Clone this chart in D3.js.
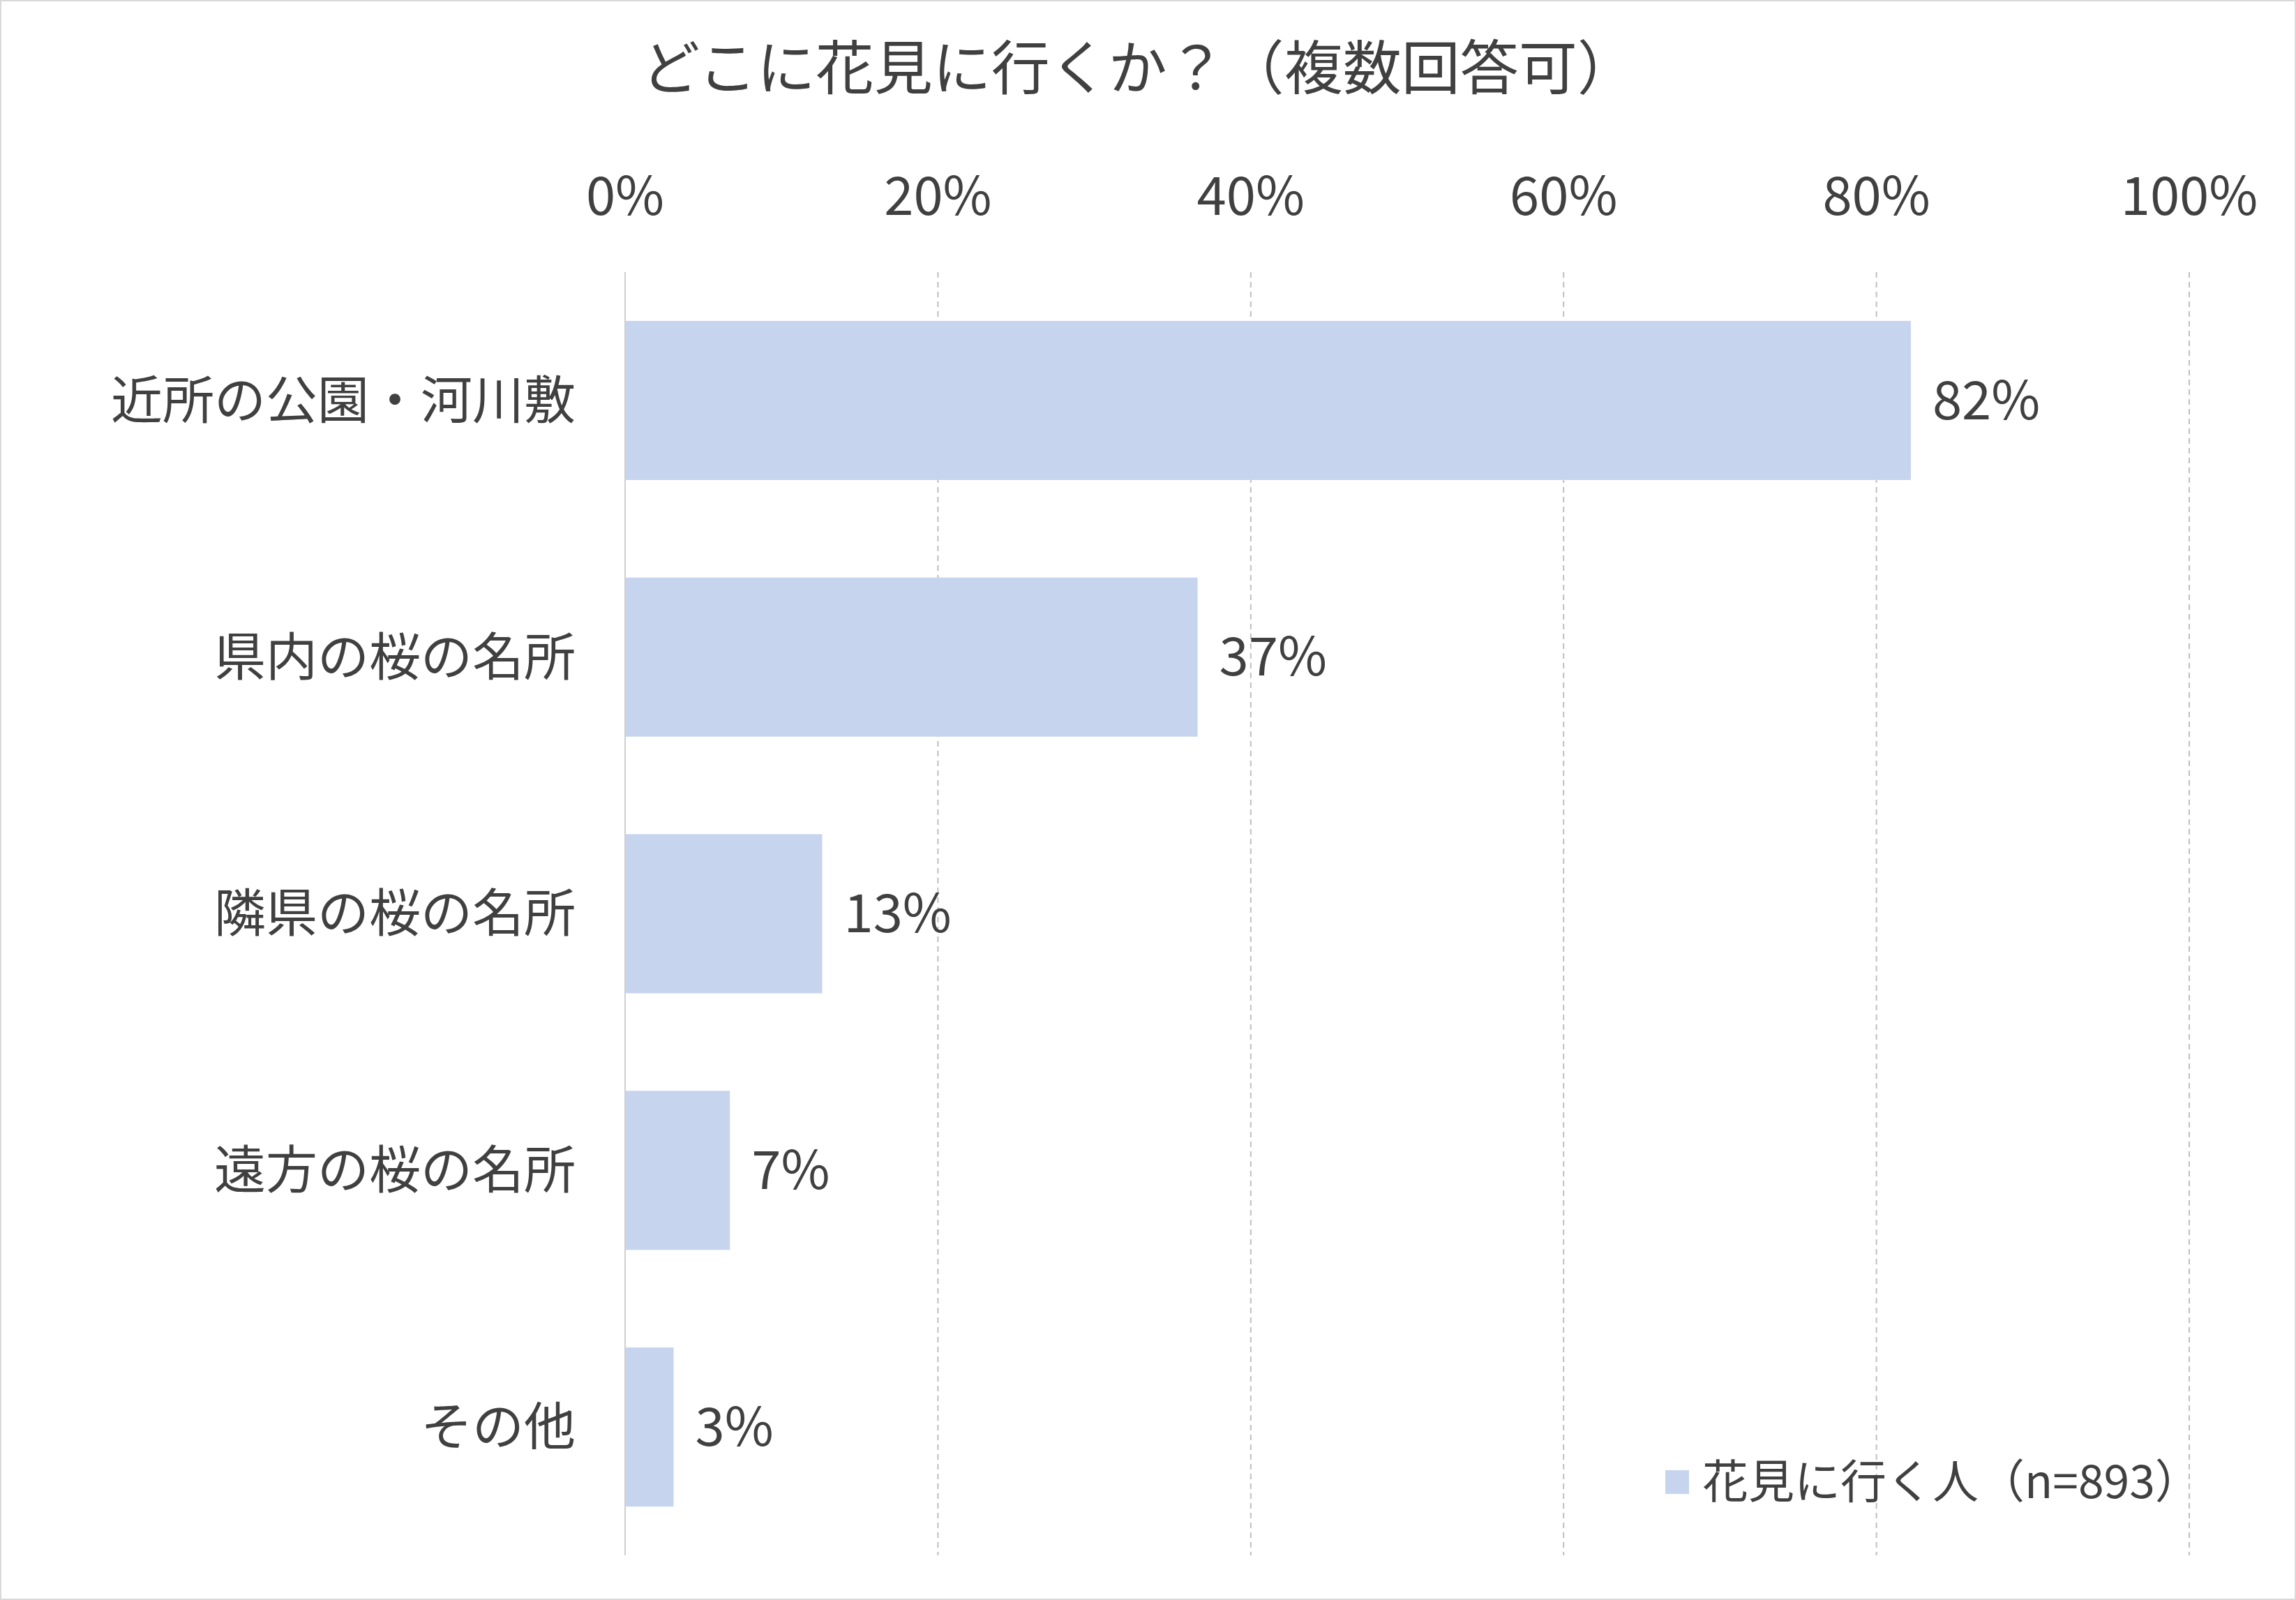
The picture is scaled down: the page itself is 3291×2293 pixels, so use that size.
<!DOCTYPE html>
<html><head><meta charset="utf-8">
<script src="https://cdn.jsdelivr.net/npm/d3@7"></script>
<style>body{margin:0;background:#fff}svg{display:block}</style>
</head><body>
<script>
const categories=["近所の公園・河川敷","県内の桜の名所","隣県の桜の名所","遠方の桜の名所","その他"];
const values=[82.2,36.6,12.6,6.7,3.1];
const valueLabels=["82%","37%","13%","7%","3%"];
const ticks=[0,20,40,60,80,100];
const title="どこに花見に行くか？（複数回答可）";
const legendLabel="花見に行く人（n=893）";

const W=3291,H=2293,font="'Noto Sans CJK JP','Noto Sans',sans-serif",tc="#404040",barC="#c7d4ed";
const svg=d3.select("body").append("svg").attr("width",W).attr("height",H).style("font-family",font);
svg.append("rect").attr("x",1).attr("y",1).attr("width",W-2).attr("height",H-2).attr("fill","#fff").attr("stroke","#d9d9d9").attr("stroke-width",2);
const x=d3.scaleLinear().domain([0,100]).range([896,3138]);
const y=d3.scaleBand().domain(categories).range([390,2229]).paddingInner(0.38).paddingOuter(0.19);
svg.append("text").attr("x",1632).attr("y",128).attr("text-anchor","middle").attr("font-size",84).attr("fill",tc).text(title);
const g=svg.append("g");
ticks.forEach(t=>{
  if(t>0) g.append("line").attr("x1",x(t)).attr("x2",x(t)).attr("y1",390).attr("y2",2229).attr("stroke","#bfbfbf").attr("stroke-width",2).attr("stroke-dasharray","8,6");
  g.append("text").attr("x",x(t)).attr("y",308).attr("text-anchor","middle").attr("font-size",76).attr("fill",tc).text(t+"%");
});
g.selectAll("rect.bar").data(values).join("rect").attr("class","bar")
 .attr("x",x(0)).attr("y",(d,i)=>y(categories[i])).attr("width",d=>x(d)-x(0)).attr("height",y.bandwidth()).attr("fill",barC);
g.append("line").attr("x1",x(0)).attr("x2",x(0)).attr("y1",390).attr("y2",2229).attr("stroke","#d0d0d0").attr("stroke-width",2);
g.selectAll("text.cat").data(categories).join("text").attr("class","cat")
 .attr("x",825).attr("y",d=>y(d)+y.bandwidth()/2).attr("dy","0.35em").attr("text-anchor","end").attr("font-size",74).attr("fill",tc).text(d=>d);
g.selectAll("text.val").data(values).join("text").attr("class","val")
 .attr("x",d=>x(d)+31).attr("y",(d,i)=>y(categories[i])+y.bandwidth()/2).attr("dy","0.35em").attr("font-size",76).attr("fill",tc).text((d,i)=>valueLabels[i]);
svg.append("rect").attr("x",2387).attr("y",2107).attr("width",34).attr("height",34).attr("fill",barC);
svg.append("text").attr("x",2440).attr("y",2124).attr("dy","0.35em").attr("font-size",66).attr("fill",tc).text(legendLabel);
</script>
</body></html>
